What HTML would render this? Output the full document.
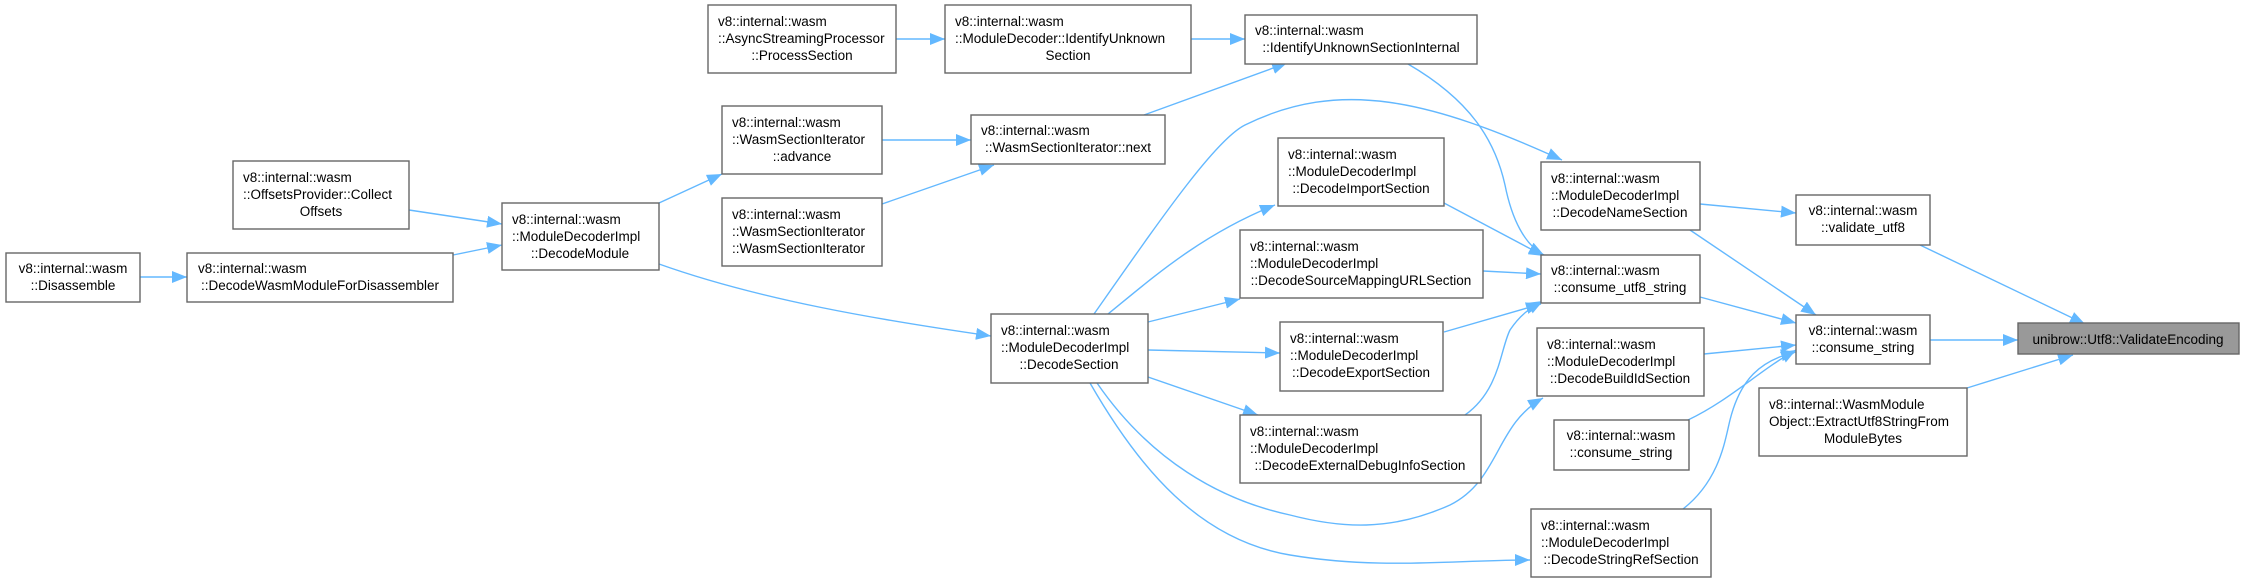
<!DOCTYPE html>
<html><head><meta charset="utf-8"><style>
html,body{margin:0;padding:0;background:#fff}
svg{display:block}
text{font-family:"Liberation Sans",sans-serif;font-size:13.5px;fill:#000}
.n{fill:#fff;stroke:#666;stroke-width:1.4}
.e{fill:none;stroke:#63b8ff;stroke-width:1.4}
</style></head><body>
<svg width="2242" height="580" viewBox="0 0 2242 580" xmlns="http://www.w3.org/2000/svg">
<defs><marker id="a" markerUnits="userSpaceOnUse" markerWidth="16" markerHeight="12" refX="15" refY="6" orient="auto"><path d="M0,0 L15,6 L0,12 z" fill="#63b8ff"/></marker></defs>
<g class="edges">
<path class="e" marker-end="url(#a)" d="M140,277 L187,277"/>
<path class="e" marker-end="url(#a)" d="M453,255 L502,245"/>
<path class="e" marker-end="url(#a)" d="M409,210 L502,224"/>
<path class="e" marker-end="url(#a)" d="M659,203 L722,174"/>
<path class="e" marker-end="url(#a)" d="M659,264 C760,300 880,320 991,336"/>
<path class="e" marker-end="url(#a)" d="M882,140 L971,140"/>
<path class="e" marker-end="url(#a)" d="M882,204 L994,165"/>
<path class="e" marker-end="url(#a)" d="M896,39 L945,39"/>
<path class="e" marker-end="url(#a)" d="M1191,39 L1245,39"/>
<path class="e" marker-end="url(#a)" d="M1144,115 L1287,63"/>
<path class="e" marker-end="url(#a)" d="M1094,314 C1160,220 1215,140 1245,125 C1340,78 1430,100 1562,160"/>
<path class="e" marker-end="url(#a)" d="M1108,314 C1150,280 1200,235 1275,205"/>
<path class="e" marker-end="url(#a)" d="M1148,322 L1240,299"/>
<path class="e" marker-end="url(#a)" d="M1148,350 L1280,353"/>
<path class="e" marker-end="url(#a)" d="M1148,377 L1258,415"/>
<path class="e" marker-end="url(#a)" d="M1090,383 C1140,470 1200,540 1290,555 C1380,570 1450,560 1530,560"/>
<path class="e" marker-end="url(#a)" d="M1097,383 C1150,460 1220,500 1290,515 C1340,528 1390,532 1450,505 C1500,480 1495,425 1543,398"/>
<path class="e" marker-end="url(#a)" d="M1408,64 C1470,100 1495,140 1505,185 C1512,220 1525,245 1544,255"/>
<path class="e" marker-end="url(#a)" d="M1444,203 L1544,256"/>
<path class="e" marker-end="url(#a)" d="M1483,271 L1541,274"/>
<path class="e" marker-end="url(#a)" d="M1444,332 L1541,304"/>
<path class="e" marker-end="url(#a)" d="M1465,415 C1500,390 1500,350 1510,330 C1520,315 1530,308 1543,301"/>
<path class="e" marker-end="url(#a)" d="M1700,204 L1796,213"/>
<path class="e" marker-end="url(#a)" d="M1690,230 L1816,315"/>
<path class="e" marker-end="url(#a)" d="M1700,297 L1796,323"/>
<path class="e" marker-end="url(#a)" d="M1704,354 L1796,345"/>
<path class="e" marker-end="url(#a)" d="M1688,420 C1730,400 1760,370 1796,350"/>
<path class="e" marker-end="url(#a)" d="M1683,509 C1720,480 1725,440 1730,420 C1740,380 1760,360 1796,352"/>
<path class="e" marker-end="url(#a)" d="M1930,340 L2018,340"/>
<path class="e" marker-end="url(#a)" d="M1920,245 L2085,324"/>
<path class="e" marker-end="url(#a)" d="M1967,388 L2073,355"/>
</g>
<g class="nodes">
<rect class="n" x="6" y="253" width="134" height="49"/>
<text x="73" y="273" text-anchor="middle">v8::internal::wasm</text><text x="73" y="290" text-anchor="middle">::Disassemble</text>

<rect class="n" x="187" y="253" width="266" height="49"/>
<text x="198" y="273">v8::internal::wasm</text><text x="320" y="290" text-anchor="middle">::DecodeWasmModuleForDisassembler</text>

<rect class="n" x="233" y="161" width="176" height="68"/>
<text x="243" y="182">v8::internal::wasm</text><text x="243" y="199">::OffsetsProvider::Collect</text><text x="321" y="216" text-anchor="middle">Offsets</text>

<rect class="n" x="502" y="203" width="157" height="67"/>
<text x="512" y="224">v8::internal::wasm</text><text x="512" y="241">::ModuleDecoderImpl</text><text x="580" y="258" text-anchor="middle">::DecodeModule</text>

<rect class="n" x="722" y="106" width="160" height="68"/>
<text x="732" y="127">v8::internal::wasm</text><text x="732" y="144">::WasmSectionIterator</text><text x="802" y="161" text-anchor="middle">::advance</text>

<rect class="n" x="722" y="198" width="160" height="68"/>
<text x="732" y="219">v8::internal::wasm</text><text x="732" y="236">::WasmSectionIterator</text><text x="732" y="253">::WasmSectionIterator</text>

<rect class="n" x="708" y="5" width="188" height="68"/>
<text x="718" y="26">v8::internal::wasm</text><text x="718" y="43">::AsyncStreamingProcessor</text><text x="802" y="60" text-anchor="middle">::ProcessSection</text>

<rect class="n" x="945" y="5" width="246" height="68"/>
<text x="955" y="26">v8::internal::wasm</text><text x="955" y="43">::ModuleDecoder::IdentifyUnknown</text><text x="1068" y="60" text-anchor="middle">Section</text>

<rect class="n" x="1245" y="15" width="232" height="49"/>
<text x="1255" y="35">v8::internal::wasm</text><text x="1361" y="52" text-anchor="middle">::IdentifyUnknownSectionInternal</text>

<rect class="n" x="971" y="115" width="194" height="49"/>
<text x="981" y="135">v8::internal::wasm</text><text x="1068" y="152" text-anchor="middle">::WasmSectionIterator::next</text>

<rect class="n" x="1278" y="138" width="166" height="68"/>
<text x="1288" y="159">v8::internal::wasm</text><text x="1288" y="176">::ModuleDecoderImpl</text><text x="1361" y="193" text-anchor="middle">::DecodeImportSection</text>

<rect class="n" x="1240" y="230" width="243" height="68"/>
<text x="1250" y="251">v8::internal::wasm</text><text x="1250" y="268">::ModuleDecoderImpl</text><text x="1361" y="285" text-anchor="middle">::DecodeSourceMappingURLSection</text>

<rect class="n" x="1280" y="322" width="163" height="69"/>
<text x="1290" y="343">v8::internal::wasm</text><text x="1290" y="360">::ModuleDecoderImpl</text><text x="1361" y="377" text-anchor="middle">::DecodeExportSection</text>

<rect class="n" x="1240" y="415" width="241" height="68"/>
<text x="1250" y="436">v8::internal::wasm</text><text x="1250" y="453">::ModuleDecoderImpl</text><text x="1360" y="470" text-anchor="middle">::DecodeExternalDebugInfoSection</text>

<rect class="n" x="991" y="314" width="157" height="69"/>
<text x="1001" y="335">v8::internal::wasm</text><text x="1001" y="352">::ModuleDecoderImpl</text><text x="1069" y="369" text-anchor="middle">::DecodeSection</text>

<rect class="n" x="1541" y="162" width="159" height="68"/>
<text x="1551" y="183">v8::internal::wasm</text><text x="1551" y="200">::ModuleDecoderImpl</text><text x="1620" y="217" text-anchor="middle">::DecodeNameSection</text>

<rect class="n" x="1541" y="255" width="159" height="48"/>
<text x="1551" y="275">v8::internal::wasm</text><text x="1620" y="292" text-anchor="middle">::consume_utf8_string</text>

<rect class="n" x="1537" y="328" width="167" height="68"/>
<text x="1547" y="349">v8::internal::wasm</text><text x="1547" y="366">::ModuleDecoderImpl</text><text x="1620" y="383" text-anchor="middle">::DecodeBuildIdSection</text>

<rect class="n" x="1554" y="420" width="135" height="50"/>
<text x="1621" y="440" text-anchor="middle">v8::internal::wasm</text><text x="1621" y="457" text-anchor="middle">::consume_string</text>

<rect class="n" x="1531" y="509" width="180" height="68"/>
<text x="1541" y="530">v8::internal::wasm</text><text x="1541" y="547">::ModuleDecoderImpl</text><text x="1621" y="564" text-anchor="middle">::DecodeStringRefSection</text>

<rect class="n" x="1796" y="195" width="134" height="50"/>
<text x="1863" y="215" text-anchor="middle">v8::internal::wasm</text><text x="1863" y="232" text-anchor="middle">::validate_utf8</text>

<rect class="n" x="1796" y="315" width="134" height="49"/>
<text x="1863" y="335" text-anchor="middle">v8::internal::wasm</text><text x="1863" y="352" text-anchor="middle">::consume_string</text>

<rect class="n" x="1759" y="388" width="208" height="68"/>
<text x="1769" y="409">v8::internal::WasmModule</text><text x="1769" y="426">Object::ExtractUtf8StringFrom</text><text x="1863" y="443" text-anchor="middle">ModuleBytes</text>

<rect x="2018" y="323" width="221" height="31" fill="#999" stroke="#666" stroke-width="1.4"/>
<text x="2128" y="344" text-anchor="middle">unibrow::Utf8::ValidateEncoding</text>
</g>
</svg>
</body></html>
